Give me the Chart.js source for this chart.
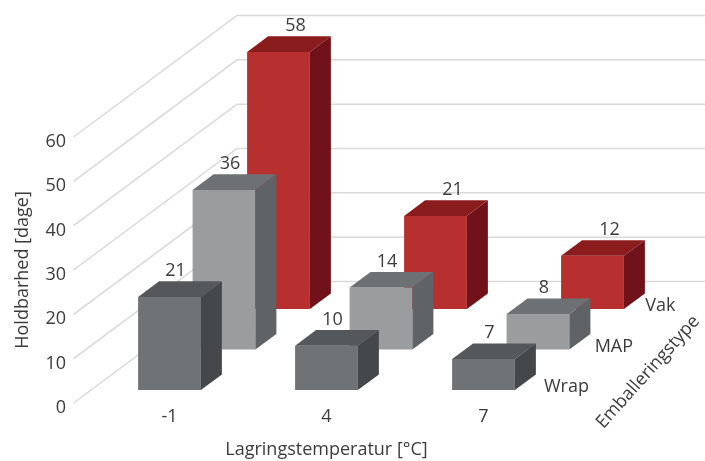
<!DOCTYPE html>
<html>
<head>
<meta charset="utf-8">
<script src="https://cdn.jsdelivr.net/npm/chart.js@4.4.1/dist/chart.umd.min.js"></script>
<style>
  html, body { margin: 0; padding: 0; background: #ffffff; }
  canvas { display: block; }
</style>
</head>
<body>
<canvas id="chart" width="705" height="461"></canvas>
<script>
// Storage temperature categories and shelf life (days) per packaging type
const temperatures = ['-1', '4', '7'];
const packagingTypes = ['Wrap', 'MAP', 'Vak'];
const wrapDays = [21, 10, 7];
const mapDays = [36, 14, 8];
const vakDays = [58, 21, 12];
const dayTicks = [0, 10, 20, 30, 40, 50, 60];

const FONT_FAMILY = "'Open Sans', Roboto, sans-serif";
const FONT_SIZE = 18;
const TEXT_COLOR = '#3b3b3b';
const GRID_COLOR = '#d9d9d9';

// Face shading for each packaging row: front, top, right side
const rowStyles = [
  { front: '#707375', top: '#55585a', side: '#45484a', labelShift: 6 },
  { front: '#9a9c9d', top: '#6e7173', side: '#606365', labelShift: 6 },
  { front: '#b7302f', top: '#8b1c1e', side: '#71121a', labelShift: 17 }
];

// Oblique projection: every row sits one step further back and up
const STEP_X = 54.5;
const STEP_Y = 40.5;
const ROW_DEPTH = [0.32, 1.32, 2.32];
const BOX_DEPTH = 0.385;
const WALL_DEPTH = 3;

function shift(d) {
  return { x: (d - ROW_DEPTH[0]) * STEP_X, y: -d * STEP_Y };
}

const font = { family: FONT_FAMILY, size: FONT_SIZE };

const box3d = {
  id: 'box3d',
  beforeDatasetsDraw(chart) {
    const { ctx, chartArea, scales: { y } } = chart;
    const front = shift(0);
    const back = shift(WALL_DEPTH);
    ctx.save();
    ctx.strokeStyle = GRID_COLOR;
    ctx.lineWidth = 1.5;
    y.ticks.forEach(t => {
      const py = y.getPixelForValue(t.value);
      ctx.beginPath();
      ctx.moveTo(chartArea.left + front.x, py + front.y);
      ctx.lineTo(chartArea.left + back.x, py + back.y);
      ctx.lineTo(chart.width, py + back.y);
      ctx.stroke();
    });
    ctx.restore();
  },
  beforeDatasetDraw(chart, args) {
    const s = shift(ROW_DEPTH[args.index]);
    chart.ctx.save();
    chart.ctx.translate(s.x, s.y);
  },
  afterDatasetDraw(chart, args) {
    const ctx = chart.ctx;
    const st = rowStyles[args.index];
    const bx = BOX_DEPTH * STEP_X;
    const by = BOX_DEPTH * STEP_Y;
    args.meta.data.forEach(bar => {
      const { x, y, base, width } = bar.getProps(['x', 'y', 'base', 'width'], true);
      const x0 = x - width / 2;
      const x1 = x + width / 2;
      ctx.fillStyle = st.top;
      ctx.beginPath();
      ctx.moveTo(x0, y);
      ctx.lineTo(x1, y);
      ctx.lineTo(x1 + bx, y - by);
      ctx.lineTo(x0 + bx, y - by);
      ctx.closePath();
      ctx.fill();
      ctx.fillStyle = st.side;
      ctx.beginPath();
      ctx.moveTo(x1, y);
      ctx.lineTo(x1 + bx, y - by);
      ctx.lineTo(x1 + bx, base - by);
      ctx.lineTo(x1, base);
      ctx.closePath();
      ctx.fill();
    });
    ctx.restore();
  },
  afterDatasetsDraw(chart) {
    const { ctx, chartArea, scales: { y } } = chart;
    const by = BOX_DEPTH * STEP_Y;
    ctx.save();
    ctx.font = `${FONT_SIZE}px ${FONT_FAMILY}`;
    ctx.fillStyle = TEXT_COLOR;
    // value above each box
    chart.data.datasets.forEach((ds, i) => {
      const s = shift(ROW_DEPTH[i]);
      const meta = chart.getDatasetMeta(i);
      ctx.textAlign = 'center';
      ctx.textBaseline = 'alphabetic';
      meta.data.forEach((bar, j) => {
        const { x, y: top } = bar.getProps(['x', 'y'], true);
        ctx.fillText(String(ds.data[j]), x + s.x + rowStyles[i].labelShift, top + s.y - by - 5);
      });
      // row name at the right end of each row
      ctx.textAlign = 'left';
      ctx.textBaseline = 'middle';
      ctx.fillText(packagingTypes[i], chartArea.right - 18 + s.x * 0.93, y.getPixelForValue(0) + s.y - 3);
    });
    // depth axis title
    ctx.translate(chartArea.right + 86, y.getPixelForValue(0) - 31);
    ctx.rotate(-48 * Math.PI / 180);
    ctx.textAlign = 'center';
    ctx.textBaseline = 'middle';
    ctx.fillText('Emballeringstype', 0, 0);
    ctx.restore();
  }
};

new Chart(document.getElementById('chart'), {
  type: 'bar',
  data: {
    labels: temperatures,
    datasets: [
      { label: packagingTypes[0], data: wrapDays, backgroundColor: rowStyles[0].front },
      { label: packagingTypes[1], data: mapDays, backgroundColor: rowStyles[1].front },
      { label: packagingTypes[2], data: vakDays, backgroundColor: rowStyles[2].front }
    ]
  },
  options: {
    responsive: false,
    animation: false,
    devicePixelRatio: 1,
    layout: { padding: { top: 137, right: 143, bottom: 0, left: 0 } },
    datasets: {
      bar: {
        grouped: false,
        categoryPercentage: 1,
        barPercentage: 0.4,
        borderWidth: 0,
        clip: false
      }
    },
    plugins: {
      legend: { display: false },
      tooltip: { enabled: false }
    },
    scales: {
      x: {
        grid: { display: false, drawTicks: false },
        border: { display: false },
        ticks: { font, color: TEXT_COLOR, padding: 3 },
        title: {
          display: true,
          text: 'Lagringstemperatur [°C]',
          font, color: TEXT_COLOR,
          padding: { top: 0, bottom: 0 }
        },
        afterFit(scale) { scale.height = 58; }
      },
      y: {
        min: dayTicks[0],
        max: dayTicks[dayTicks.length - 1],
        afterBuildTicks(scale) { scale.ticks = dayTicks.map(v => ({ value: v })); },
        grid: { display: false, drawTicks: false },
        border: { display: false },
        ticks: { font, color: TEXT_COLOR, padding: 25, labelOffset: 5 },
        title: {
          display: true,
          text: 'Holdbarhed [dage]',
          font, color: TEXT_COLOR,
          padding: { top: 12, bottom: 0 }
        },
        afterFit(scale) { scale.width = 91; }
      }
    }
  },
  plugins: [box3d]
});
</script>
</body>
</html>
